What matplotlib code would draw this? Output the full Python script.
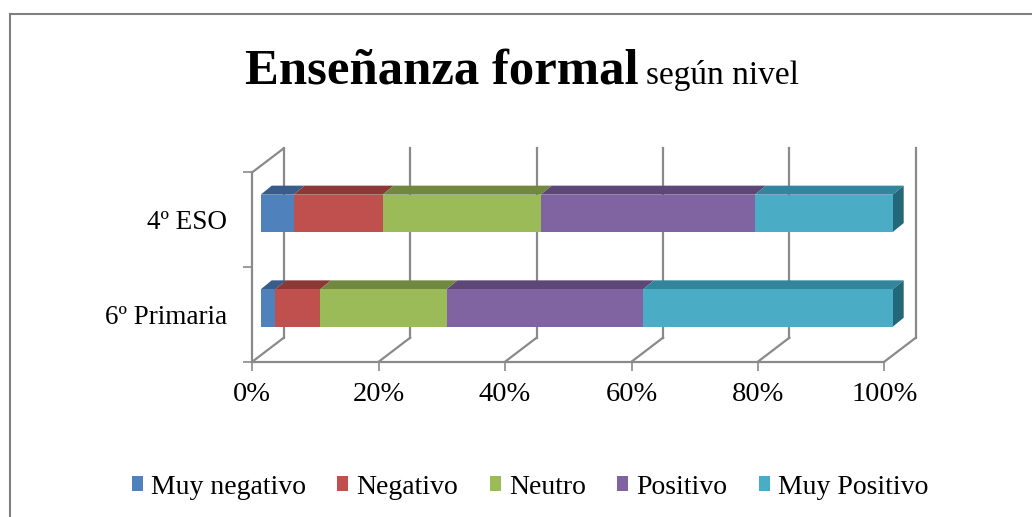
import numpy as np
import matplotlib
matplotlib.use('Agg')
import matplotlib.pyplot as plt
from matplotlib.patches import Polygon, Patch
from matplotlib.lines import Line2D
from matplotlib.transforms import offset_copy

plt.rcParams['font.family'] = ['Liberation Serif', 'DejaVu Serif']

# Survey answers (% of students) per school level
niveles = ["6º Primaria", "4º ESO"]
respuestas = ["Muy negativo", "Negativo", "Neutro", "Positivo", "Muy Positivo"]
muy_negativo = [2.3, 5.2]
negativo = [7.1, 14.1]
neutro = [20.0, 25.0]
positivo = [31.1, 33.9]
muy_positivo = [39.5, 21.8]
series = [muy_negativo, negativo, neutro, positivo, muy_positivo]

x_ticks = [0, 20, 40, 60, 80, 100]

front_colors = ['#4F81BD', '#C0504D', '#9BBB59', '#8064A2', '#4BACC6']
top_colors = ['#385D8A', '#8C3836', '#71893F', '#5C4776', '#31859C']
side_color = '#23687A'
grid_color = '#8A8A8A'

W, H = 1032, 517
fig = plt.figure(figsize=(W / 100, H / 100), dpi=100)
fig.patch.set_facecolor('white')

# axes = front plane of the floor / left wall
ax_l, ax_r, ax_top, ax_bot = 252.3, 884.3, 172.3, 361.7
ax = fig.add_axes([ax_l / W, 1 - ax_bot / H, (ax_r - ax_l) / W, (ax_bot - ax_top) / H])
ax.set_xlim(0, 100)
ax.set_ylim(0, 2)
ax.patch.set_alpha(0)

px_x = (ax_r - ax_l) / 100.0   # pixels per x unit
px_y = (ax_bot - ax_top) / 2.0  # pixels per y unit

# 3-D look: wall depth, bar front offset, bar thickness (pixels)
wall_dx, wall_dy = 31.5, 24.0
bar_fx, bar_fy = 8.4, 6.3
bar_dx, bar_dy = 11.0, 9.0
bar_h = 0.395

wall_t = offset_copy(ax.transData, fig=fig, x=wall_dx, y=wall_dy, units='dots')
bar_t = offset_copy(ax.transData, fig=fig, x=bar_fx, y=bar_fy, units='dots')

# floor diagonals and back-wall gridlines
for xt in x_ticks:
    ax.plot([xt, xt + wall_dx / px_x], [0, wall_dy / px_y], color=grid_color,
            lw=1.6, zorder=1, clip_on=False)
    ax.plot([xt, xt], [0, 2], color=grid_color, lw=1.6, transform=wall_t,
            zorder=1, clip_on=False)
# top edge of the left wall
ax.plot([0, wall_dx / px_x], [2, 2 + wall_dy / px_y], color=grid_color,
        lw=1.6, zorder=1, clip_on=False)

# stacked bars: front face, top face, and end face of the last segment
ypos = np.arange(len(niveles)) + 0.5
ddx, ddy = bar_dx / px_x, bar_dy / px_y
lefts = np.zeros(len(niveles))
for i, vals in enumerate(series):
    vals = np.array(vals)
    ax.barh(ypos, vals, left=lefts, height=bar_h, color=front_colors[i],
            transform=bar_t, zorder=3, clip_on=False)
    for y, l, v in zip(ypos, lefts, vals):
        top = y + bar_h / 2
        poly = Polygon([(l, top), (l + v, top), (l + v + ddx, top + ddy),
                        (l + ddx, top + ddy)], closed=True,
                       facecolor=top_colors[i], edgecolor='none',
                       transform=bar_t, zorder=2, clip_on=False)
        ax.add_patch(poly)
    lefts = lefts + vals

for y, r in zip(ypos, lefts):
    bot, top = y - bar_h / 2, y + bar_h / 2
    ax.add_patch(Polygon([(r, bot), (r, top), (r + ddx, top + ddy),
                          (r + ddx, bot + ddy)], closed=True,
                         facecolor=side_color, edgecolor='none',
                         transform=bar_t, zorder=2, clip_on=False))

# axes: left and bottom spines with outward ticks
for s in ['top', 'right']:
    ax.spines[s].set_visible(False)
for s in ['left', 'bottom']:
    ax.spines[s].set_color(grid_color)
    ax.spines[s].set_linewidth(1.6)
ax.set_xticks(x_ticks)
ax.set_xticklabels([f"{t}%" for t in x_ticks])
ax.set_yticks([0, 1, 2])
ax.set_yticklabels([])
ax.set_yticks(ypos, minor=True)
ax.set_yticklabels(niveles, minor=True)
ax.tick_params(axis='both', which='major', direction='out', length=6.5,
               width=1.2, color=grid_color, labelsize=20.5)
ax.tick_params(axis='x', pad=8)
ax.tick_params(axis='y', which='minor', length=0, pad=18, labelsize=19.5)

# title: bold main part followed by a smaller regular subtitle
t1 = fig.text(245 / W, 1 - 84 / H, "Enseñanza formal", fontsize=36.5,
              fontweight='bold', ha='left', va='baseline')
plt.annotate("según nivel", xy=(1.0, 1 - 84 / H), xycoords=(t1, 'figure fraction'),
             xytext=(7, 0), textcoords='offset pixels', fontsize=24,
             ha='left', va='baseline', annotation_clip=False)

# legend
handles = [Patch(facecolor=c, edgecolor='none') for c in front_colors]
fig.legend(handles, respuestas, loc='center', bbox_to_anchor=(530 / W, 1 - 487 / H),
           ncol=5, frameon=False, fontsize=20, handlelength=0.4,
           handleheight=0.48, handletextpad=0.3, columnspacing=1.12)

# chart frame
fig.add_artist(Line2D([9.5 / W, 1.0], [1 - 13.5 / H, 1 - 13.5 / H],
                      color='#808080', lw=1.5, transform=fig.transFigure))
fig.add_artist(Line2D([9.5 / W, 9.5 / W], [0.0, 1 - 13.5 / H],
                      color='#808080', lw=1.5, transform=fig.transFigure))

fig.savefig("out.png", dpi=100, facecolor='white')
